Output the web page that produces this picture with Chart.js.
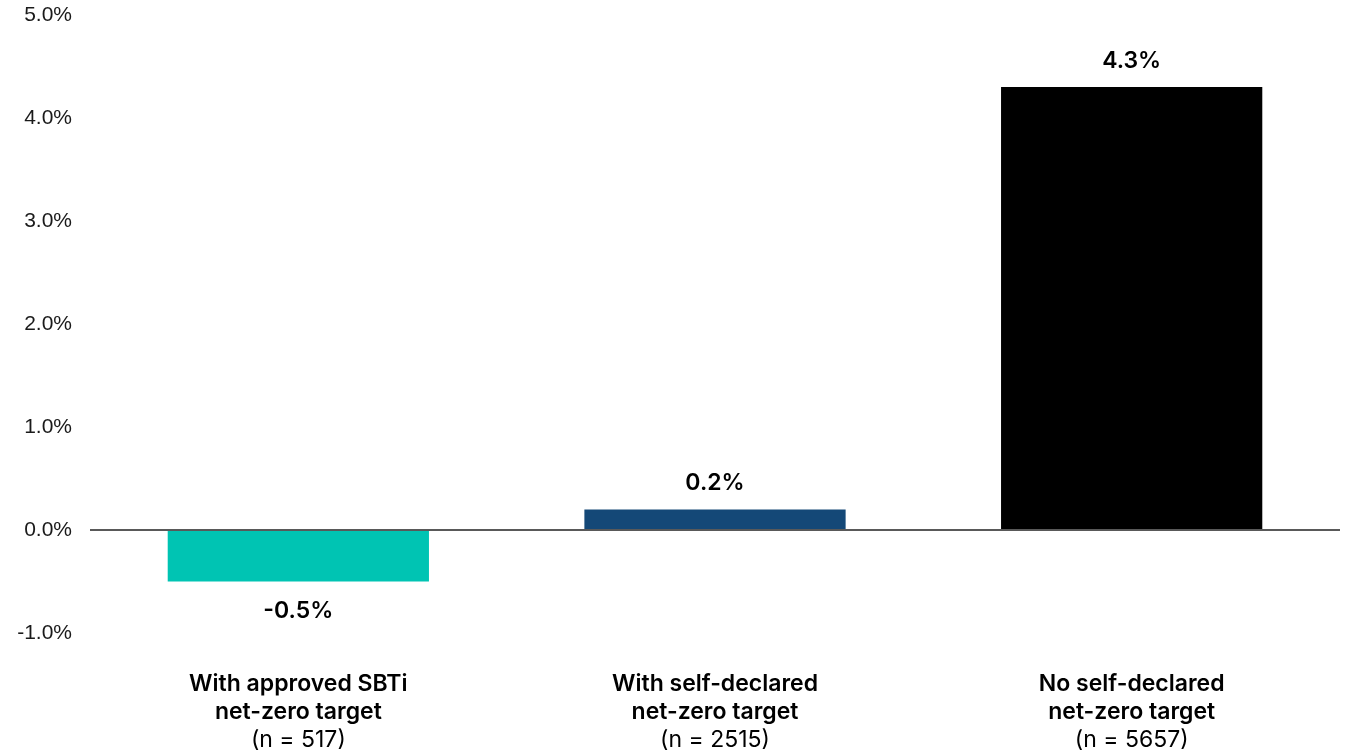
<!DOCTYPE html>
<html>
<head>
<meta charset="utf-8">
<script src="https://cdn.jsdelivr.net/npm/chart.js@4"></script>
<style>
  html, body { margin: 0; padding: 0; background: #fff; }
  #wrap { width: 1347px; height: 754px; }
</style>
</head>
<body>
<div id="wrap"><canvas id="myChart" width="1347" height="754"></canvas></div>
<script>
const categories = [
    ["With approved SBTi", "net-zero target"],
    ["With self-declared", "net-zero target"],
    ["No self-declared", "net-zero target"]
];
const sampleSizes = ["(n = 517)", "(n = 2515)", "(n = 5657)"];
const values = [-0.5, 0.2, 4.3];
const barColors = ["#00C4B3", "#144877", "#000000"];
const yTicks = [-1, 0, 1, 2, 3, 4, 5];

// etiquetas de valor y de categoria
const labelsPlugin = {
    id: "labelsPlugin",
    afterDatasetsDraw(chart) {
        const ctx = chart.ctx;
        const meta = chart.getDatasetMeta(0);
        ctx.save();
        ctx.fillStyle = "#000";
        ctx.textAlign = "center";
        ctx.textBaseline = "middle";
        ctx.font = "600 23px Inter";
        meta.data.forEach(function(bar, i) {
            const v = values[i];
            const y = v >= 0 ? bar.y - 26 : bar.y + 30;
            ctx.fillText(v.toFixed(1) + "%", bar.x, y);
        });
        const xs = chart.scales.x;
        categories.forEach(function(lines, i) {
            const x = xs.getPixelForValue(i);
            ctx.font = "600 23px Inter";
            lines.forEach(function(t, j) {
                ctx.fillText(t, x, 684 + j * 28);
            });
            ctx.font = "normal 23px Inter";
            ctx.fillText(sampleSizes[i], x, 684 + lines.length * 28);
        });
        ctx.restore();
    }
};

const myChart = new Chart("myChart", {
    type: "bar",
    data: {
        labels: categories,
        datasets: [{
            data: values,
            backgroundColor: barColors,
            borderWidth: 0,
            categoryPercentage: 1,
            barPercentage: 0.627
        }]
    },
    options: {
        responsive: false,
        animation: false,
        layout: { padding: { top: 15, right: 7, left: 0, bottom: 0 } },
        plugins: {
            legend: { display: false },
            tooltip: { enabled: false }
        },
        scales: {
            x: {
                ticks: { display: false },
                grid: { display: false },
                border: { display: false },
                afterFit(scale) { scale.height = 121; }
            },
            y: {
                min: -1,
                max: 5,
                afterBuildTicks(scale) {
                    scale.ticks = yTicks.map(v => ({ value: v }));
                },
                ticks: {
                    padding: 18,
                    color: "#1a1a1a",
                    font: { family: "Liberation Sans", size: 21 },
                    callback: v => v.toFixed(1) + "%"
                },
                grid: {
                    drawTicks: false,
                    lineWidth: ctx => (ctx.tick && ctx.tick.value === 0) ? 2 : 0,
                    color: "#595959"
                },
                border: { display: false },
                afterFit(scale) {
                    scale.width = 90;
                    scale.paddingTop = 0;
                    scale.paddingBottom = 0;
                }
            }
        }
    },
    plugins: [labelsPlugin]
});
</script>
</body>
</html>
